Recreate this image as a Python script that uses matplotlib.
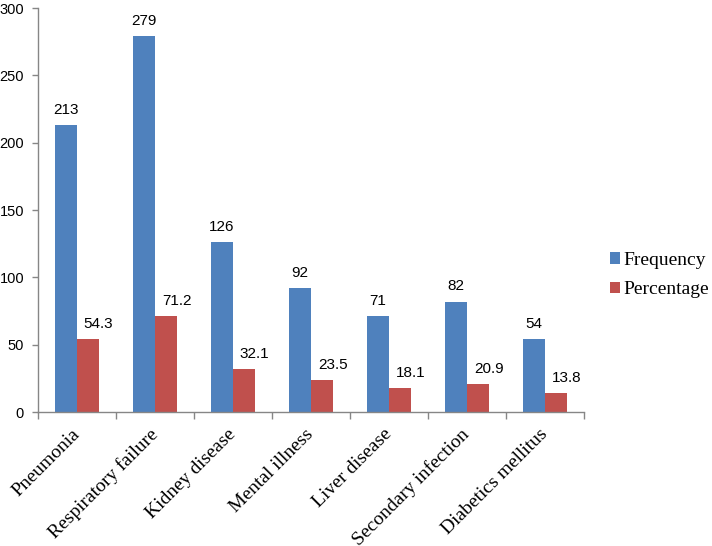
import numpy as np
import matplotlib.pyplot as plt
import matplotlib.transforms as mtransforms
from matplotlib.ticker import FixedLocator, MultipleLocator

categories = ['Pneumonia', 'Respiratory failure', 'Kidney disease', 'Mental illness',
              'Liver disease', 'Secondary infection', 'Diabetics mellitus']
frequency = [213, 279, 126, 92, 71, 82, 54]
percentage = [54.3, 71.2, 32.1, 23.5, 18.1, 20.9, 13.8]

BLUE = '#4F81BD'
RED = '#C0504D'
GREY = '#868686'

fig = plt.figure(figsize=(7.12, 5.46), dpi=100)
ax = fig.add_axes([38 / 712, 1 - 412 / 546, 546 / 712, 404 / 546])

x = np.arange(len(categories))
w = 0.286
b1 = ax.bar(x - w / 2, frequency, w, color=BLUE, label='Frequency')
b2 = ax.bar(x + w / 2, percentage, w, color=RED, label='Percentage')

# value labels, Excel style (percentage labels sit a bit to the right)
for rect, v in zip(b1, frequency):
    ax.annotate(str(v), (rect.get_x() + rect.get_width() / 2, v), xytext=(0, 8),
                textcoords='offset points', ha='center', va='baseline',
                fontsize=11, family='Liberation Sans')
for rect, v in zip(b2, percentage):
    ax.annotate('%.1f' % v, (rect.get_x() + rect.get_width() / 2, v), xytext=(7.5, 8),
                textcoords='offset points', ha='center', va='baseline',
                fontsize=11, family='Liberation Sans')

ax.set_xlim(-0.5, len(categories) - 0.5)
ax.set_ylim(0, 300)
ax.yaxis.set_major_locator(MultipleLocator(50))

ax.set_xticks(x)
ax.set_xticklabels(categories, rotation=45, ha='right', va='center',
                   rotation_mode='anchor', fontsize=14, family='Liberation Serif')
shift = mtransforms.ScaledTranslation(4 / 100, 0, fig.dpi_scale_trans)
for lab in ax.get_xticklabels():
    lab.set_transform(lab.get_transform() + shift)
ax.xaxis.set_minor_locator(FixedLocator(np.arange(-0.5, len(categories) + 0.5, 1)))
ax.tick_params(axis='x', which='major', length=0, pad=14)
ax.tick_params(axis='x', which='minor', length=5, color=GREY, width=1)
ax.tick_params(axis='y', length=4, color=GREY, width=1, pad=6, labelsize=10.5)
for lab in ax.get_yticklabels():
    lab.set_family('Liberation Sans')

for s in ['top', 'right']:
    ax.spines[s].set_visible(False)
for s in ['left', 'bottom']:
    ax.spines[s].set_color(GREY)
    ax.spines[s].set_linewidth(1)

fig.legend(loc='center left', bbox_to_anchor=(592 / 712, 1 - 275 / 546), frameon=False,
           prop={'family': 'Liberation Serif', 'size': 14}, handlelength=0.55,
           handleheight=0.55, handletextpad=0.15, labelspacing=0.65)

fig.savefig('out.png', dpi=100)
